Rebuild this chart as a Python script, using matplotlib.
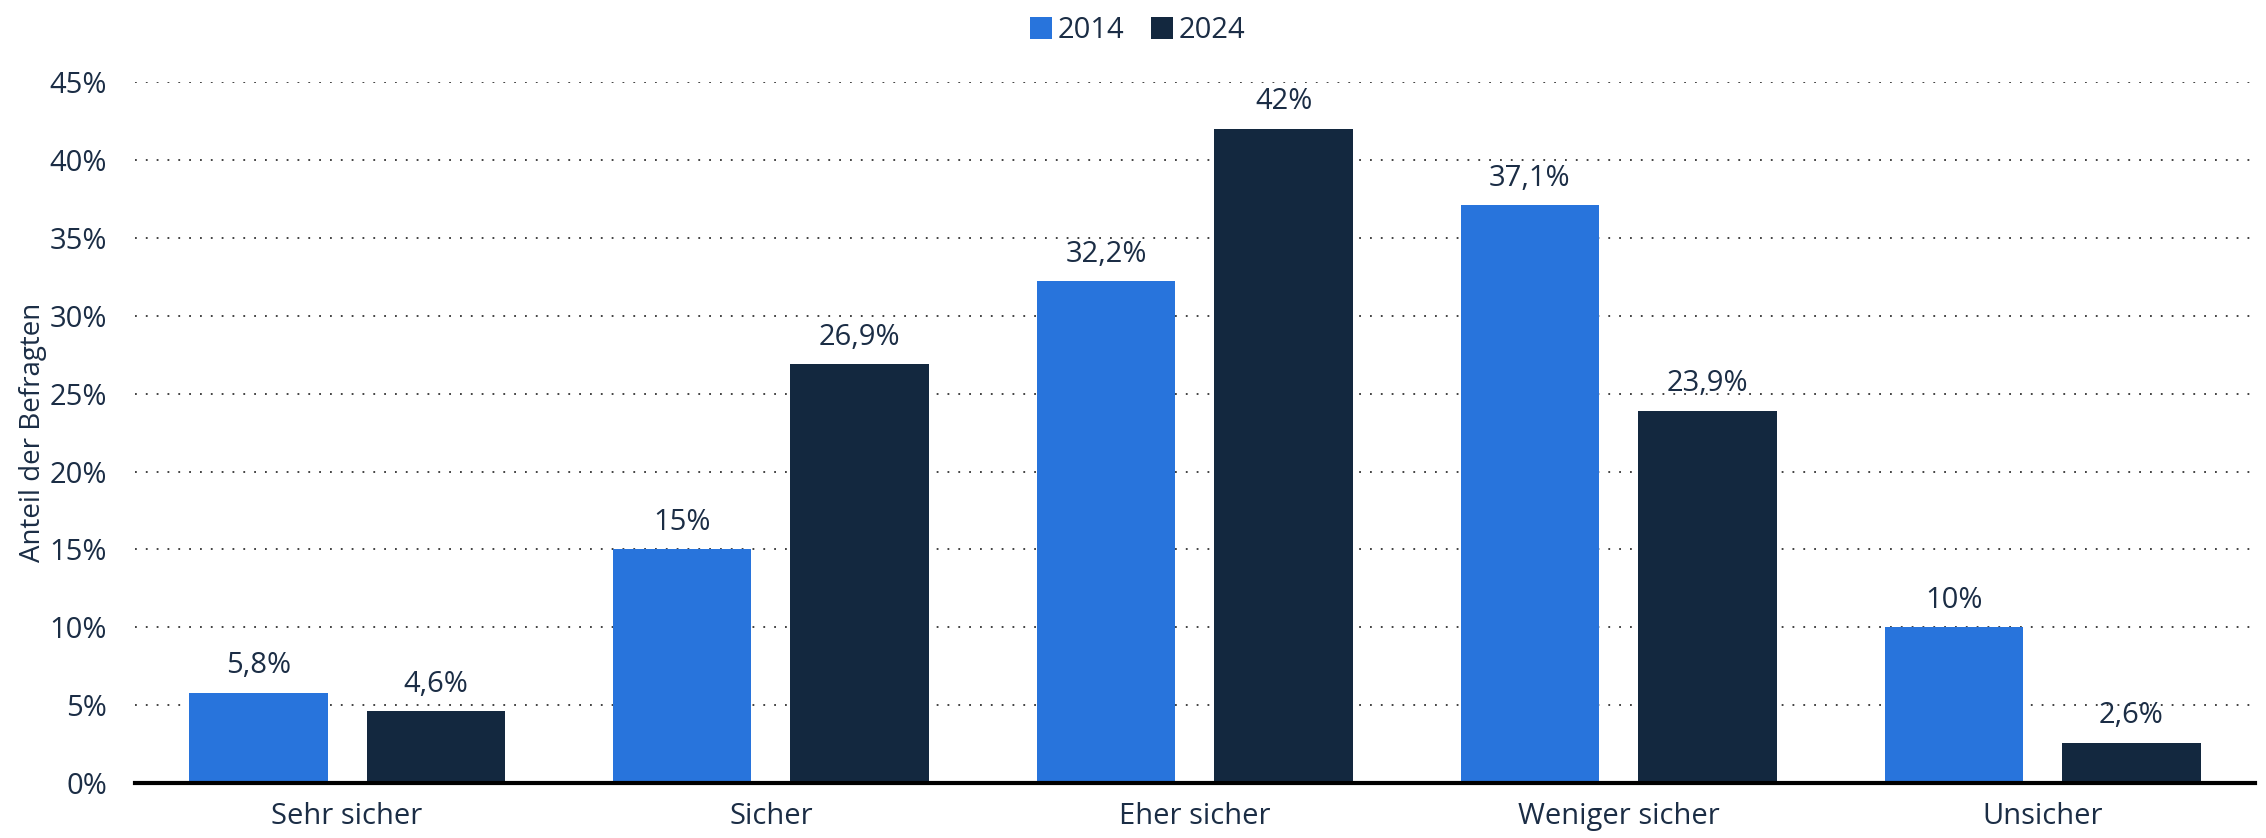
import numpy as np
import matplotlib.pyplot as plt

categories = ["Sehr sicher", "Sicher", "Eher sicher", "Weniger sicher", "Unsicher"]
values_2014 = [5.8, 15.0, 32.2, 37.1, 10.0]
values_2024 = [4.6, 26.9, 42.0, 23.9, 2.6]
series_names = ["2014", "2024"]
y_ticks = [0, 5, 10, 15, 20, 25, 30, 35, 40, 45]

blue = "#2874dc"
navy = "#13283f"
text_col = "#1b2d45"

plt.rcParams['font.family'] = ['Open Sans', 'DejaVu Sans']

fig = plt.figure(figsize=(22.66, 8.38), dpi=100)
ax = fig.add_axes([0.0596, 0.0656, 0.9354, 0.8364])

x = np.arange(len(categories))
w = 0.327
off = 0.2095

b1 = ax.bar(x - off, values_2014, w, color=blue, label=series_names[0], zorder=3)
b2 = ax.bar(x + off, values_2024, w, color=navy, label=series_names[1], zorder=3)


def fmt(v):
    s = ("%.1f" % v).rstrip("0").rstrip(".")
    return s.replace(".", ",") + "%"


for bars, vals in ((b1, values_2014), (b2, values_2024)):
    for rect, v in zip(bars, vals):
        ax.annotate(fmt(v), (rect.get_x() + rect.get_width() / 2, v),
                    xytext=(0, 9), textcoords="offset points",
                    ha="center", va="bottom", fontsize=21, color=text_col)

ax.set_xlim(-0.5, len(categories) - 0.5)
ax.set_ylim(0, 45)
ax.set_yticks(y_ticks)
ax.set_yticklabels([f"{t}%" for t in y_ticks])
ax.set_xticks(x)
ax.set_xticklabels(categories)
ax.tick_params(axis="both", length=0, labelsize=21, labelcolor=text_col)
ax.tick_params(axis="y", pad=20)
ax.tick_params(axis="x", pad=14)

ax.yaxis.grid(True, linestyle=(0, (1, 5)), color="#333333", linewidth=1.3, zorder=0)
for s in ["top", "right", "left"]:
    ax.spines[s].set_visible(False)
ax.spines["bottom"].set_linewidth(3)
ax.spines["bottom"].set_color("black")
ax.spines["bottom"].set_zorder(4)

ax.set_ylabel("Anteil der Befragten", fontsize=20, color=text_col, labelpad=2)

fig.legend(handles=[b1, b2], labels=series_names, loc="upper center",
           bbox_to_anchor=(0.502, 1.012), ncol=2, frameon=False, fontsize=21,
           handlelength=0.75, handleheight=0.75, handletextpad=0.2, columnspacing=0.9,
           labelcolor=text_col)

fig.savefig("out.png", dpi=100)
